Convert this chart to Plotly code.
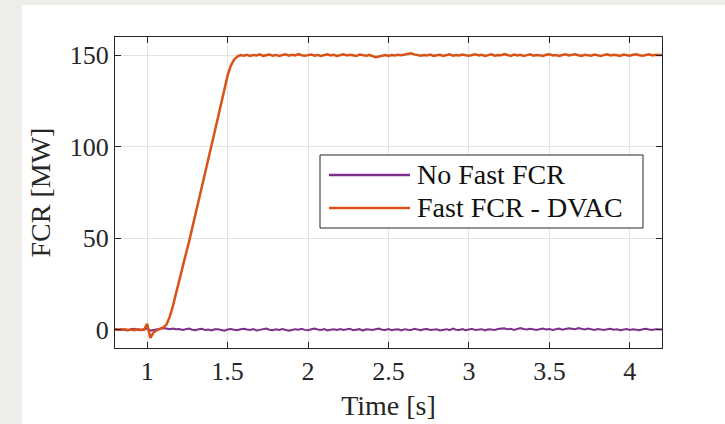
import plotly.graph_objects as go

# ---------------- data ----------------
t_start = 0.8
t_step = 0.02

no_fast_fcr = [
    0.1, -0.2, 0.3, 0.0, -0.4, 0.2, 0.5, -0.1, -0.3, 0.2,
    0.6, -0.5, -0.2, 0.1, 0.5, 0.9, 0.7, 0.3, 0.6, 0.2,
    0.4, -0.1, 0.3, 0.6, 0.0, -0.3, 0.2, 0.5, -0.2, 0.1,
    -0.4, 0.2, 0.3, -0.1, -0.5, 0.1, 0.4, 0.0, -0.3, 0.2,
    0.5, 0.1, -0.2, 0.3, -0.4, -0.1, 0.2, 0.6, 0.0, -0.3,
    0.2, -0.2, 0.4, 0.1, -0.5, -0.2, 0.3, 0.0, 0.5, -0.1,
    -0.3, 0.2, 0.6, 0.1, -0.2, 0.3, -0.4, 0.0, 0.2, -0.1,
    0.4, -0.2, 0.1, 0.5, -0.3, 0.0, 0.3, -0.5, 0.2, 0.1,
    -0.1, 0.3, 0.6, 0.0, -0.2, 0.4, -0.3, 0.1, 0.2, -0.4,
    0.3, 0.0, -0.2, 0.5, 0.1, -0.3, 0.2, 0.4, -0.1, 0.0,
    0.2, -0.4, 0.1, 0.3, -0.2, 0.6, 0.0, -0.1, 0.4, -0.3,
    0.1, 0.5, -0.2, 0.0, 0.3, -0.4, 0.2, 0.1, -0.1, 0.4,
    0.6, 0.8, 0.2, 0.5, -0.1, 0.3, 0.9, 0.4, 0.1, 0.5,
    0.2, -0.2, 0.3, 0.7, 0.1, 0.4, -0.1, 0.2, 0.6, 0.0,
    0.3, 0.8, 0.5, 0.2, 0.9, 0.4, 0.1, 0.6, 0.3, -0.1,
    0.4, 0.2, -0.2, 0.3, 0.5, 0.0, 0.2, -0.3, 0.1, 0.4,
    -0.1, 0.3, 0.0, -0.3, 0.2, 0.5, 0.1, -0.2, 0.3, 0.0,
    0.1,
]

fast_fcr_dvac = [
    0.2, -0.1, 0.0, 0.3, -0.2, 0.1, -0.3, 0.2, 0.0, -0.1,
    3.2, -4.5, -1.5, -0.3, 0.4, 1.2, 2.8, 7.0, 13.0, 20.5,
    27.5, 34.3, 41.2, 48.0, 55.3, 63.0, 70.8, 78.3, 85.8, 93.3,
    100.8, 108.3, 115.8, 123.4, 131.5, 139.0, 144.3, 147.6, 149.3, 150.1,
    149.8, 150.3, 149.6, 150.2, 149.9, 150.5, 149.7, 150.1, 150.4, 149.8,
    150.2, 149.6, 150.0, 150.5, 149.8, 150.3, 149.9, 150.6, 150.0, 149.7,
    150.1, 150.4, 149.8, 150.2, 149.6, 150.0, 150.5, 149.9, 150.3, 149.7,
    150.2, 150.6, 149.9, 150.3, 150.0, 149.6, 150.4, 150.1, 149.7, 150.2,
    149.4, 149.0, 149.3, 149.8, 150.1, 149.7, 150.2, 149.9, 150.3, 150.0,
    150.4, 150.9, 151.1, 150.5, 150.0, 149.8, 150.2, 149.9, 150.4, 149.7,
    150.0, 150.3, 149.6, 150.1, 150.5, 149.8, 150.2, 149.9, 150.4, 150.0,
    149.7, 150.2, 150.6, 149.9, 150.3, 149.6, 150.1, 150.5, 149.8, 150.2,
    150.0, 150.7, 150.2, 149.7, 150.4, 149.9, 150.3, 149.6, 150.1, 150.5,
    149.8, 150.2, 150.0, 149.6, 150.3, 150.6, 149.9, 150.2, 149.7, 150.1,
    150.5, 149.9, 150.2, 150.6, 150.0, 149.7, 150.3, 150.1, 149.8, 150.4,
    150.0, 149.6, 150.2, 150.5, 149.9, 150.3, 150.0, 149.7, 150.4, 150.1,
    149.8, 150.3, 150.6, 150.0, 149.7, 150.2, 150.5, 149.9, 150.3, 150.1,
    150.2,
]

series_names = ["No Fast FCR", "Fast FCR - DVAC"]
series_colors = ["#7E2F8E", "#D95319"]

x_tick_vals = [1, 1.5, 2, 2.5, 3, 3.5, 4]
x_tick_text = ["1", "1.5", "2", "2.5", "3", "3.5", "4"]
y_tick_vals = [0, 50, 100, 150]
y_tick_text = ["0", "50", "100", "150"]

x_title = "Time [s]"
y_title = "FCR [MW]"

# ---------------- layout constants ----------------
W, H = 725, 424
ML, MR, MT, MB = 115, 63, 37, 76
PW, PH = W - ML - MR, H - MT - MB
FONT = "Liberation Serif, Times New Roman, serif"
FS_TICK = 26
FS_TEXT = 28
AX = "#262626"


def px_x(px):
    return (px - ML) / PW


def px_y(py):
    return (H - MB - py) / PH


fig = go.Figure()
fig.add_trace(go.Scatter(
    x0=t_start, dx=t_step, y=no_fast_fcr, mode="lines", name=series_names[0],
    line=dict(color=series_colors[0], width=2), showlegend=False))
fig.add_trace(go.Scatter(
    x0=t_start, dx=t_step, y=fast_fcr_dvac, mode="lines", name=series_names[1],
    line=dict(color=series_colors[1], width=2.5), showlegend=False))

axis_common = dict(
    showline=True, linecolor=AX, linewidth=1, mirror="ticks",
    ticks="inside", ticklen=6, tickwidth=1, tickcolor=AX,
    showgrid=True, gridcolor="#e4e4e4", gridwidth=1, zeroline=False,
    tickfont=dict(family=FONT, size=FS_TICK, color=AX),
)

fig.update_xaxes(range=[0.8, 4.2], tickvals=x_tick_vals, ticktext=x_tick_text,
                 title=dict(text=x_title, font=dict(family=FONT, size=FS_TEXT, color=AX), standoff=10),
                 **axis_common)
fig.update_yaxes(range=[-10, 160], tickvals=y_tick_vals, ticktext=y_tick_text,
                 title=dict(text=y_title, font=dict(family=FONT, size=FS_TEXT, color=AX), standoff=10),
                 **axis_common)

shapes = [
    # white figure page over the grey surround
    dict(type="rect", xref="paper", yref="paper", layer="below",
         x0=px_x(22), x1=px_x(W + 20), y0=px_y(H + 20), y1=px_y(5),
         fillcolor="white", line=dict(width=0)),
    # legend box
    dict(type="rect", xref="paper", yref="paper",
         x0=px_x(320), x1=px_x(643), y0=px_y(228), y1=px_y(155),
         fillcolor="white", line=dict(color=AX, width=1)),
]
annotations = []
legend_rows = [175, 208]
for name, color, yy in zip(series_names, series_colors, legend_rows):
    shapes.append(dict(type="line", xref="paper", yref="paper",
                       x0=px_x(329), x1=px_x(410), y0=px_y(yy), y1=px_y(yy),
                       line=dict(color=color, width=2.5)))
    annotations.append(dict(text=name, xref="paper", yref="paper",
                            x=px_x(415), y=px_y(yy - 1), xanchor="left", yanchor="middle",
                            showarrow=False, font=dict(family=FONT, size=FS_TEXT, color="#111111")))

fig.update_layout(
    width=W, height=H,
    margin=dict(l=ML, r=MR, t=MT, b=MB, autoexpand=False),
    paper_bgcolor="#eeede9", plot_bgcolor="white",
    shapes=shapes, annotations=annotations,
    showlegend=False,
)

fig.write_html("out.html",
               config={"displayModeBar": False, "staticPlot": True},
               post_script="document.body.style.margin='0px';document.body.style.padding='0px';")
